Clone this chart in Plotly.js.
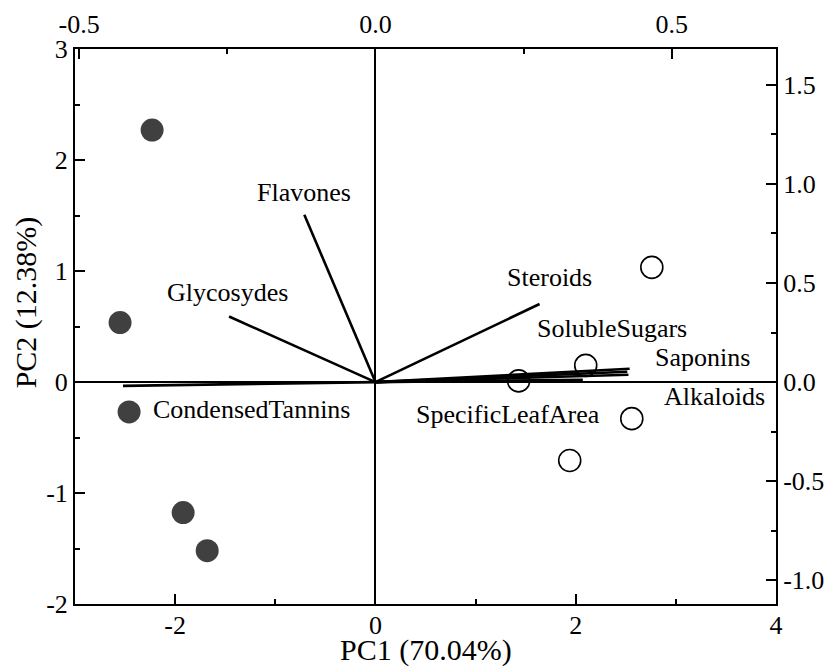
<!DOCTYPE html>
<html>
<head>
<meta charset="utf-8">
<script src="https://cdn.plot.ly/plotly-3.0.1.min.js"></script>
<style>
  html, body { margin: 0; padding: 0; background: #ffffff; }
  #chart { width: 827px; height: 669px; }
</style>
</head>
<body>
<div id="chart"></div>
<script>
// ---- Scores (PC1 / PC2, bottom & left axes) ----
const groupA_x = [-2.23, -2.55, -2.46, -1.92, -1.68];
const groupA_y = [2.27, 0.535, -0.27, -1.176, -1.52];
const groupB_x = [2.76, 2.10, 1.43, 2.56, 1.94];
const groupB_y = [1.033, 0.15, 0.01, -0.33, -0.707];

// ---- Loadings (top & right axes) ----
const varNames = ['Flavones', 'Glycosydes', 'CondensedTannins', 'Steroids',
                  'SolubleSugars', 'Saponins', 'Alkaloids', 'SpecificLeafArea'];
const loadX = [-0.120, -0.247, -0.426, 0.277, 0.425, 0.429, 0.427, 0.350];
const loadY = [0.845, 0.331, -0.019, 0.394, 0.052, 0.067, 0.037, 0.012];

// ---- Tick labels ----
const xTickVals = [-2, 0, 2, 4];
const xTickText = ['-2', '0', '2', '4'];
const yTickVals = [-2, -1, 0, 1, 2, 3];
const yTickText = ['-2', '-1', '0', '1', '2', '3'];
const x2TickVals = [-0.5, 0, 0.5];
const x2TickText = ['-0.5', '0.0', '0.5'];
const y2TickVals = [-1.0, -0.5, 0, 0.5, 1.0, 1.5];
const y2TickText = ['-1.0', '-0.5', '0.0', '0.5', '1.0', '1.5'];

// ---- Axis titles ----
const xTitle = 'PC1 (70.04%)';
const yTitle = 'PC2 (12.38%)';

// ---- Label placement (pixel offsets from vector tips; styling only) ----
const labelShiftX = [0, -2, 28, 10, -15, 73, 86, -75];
const labelShiftY = [22, 24, -24, 27, 43, 11, -22, -35];
const labelAnchor = ['center', 'center', 'left', 'center', 'center', 'center', 'center', 'center'];

const FONT = '"Liberation Serif", "Times New Roman", Times, serif';

// vectors as one line trace with gaps
const vx = [], vy = [];
for (let i = 0; i < varNames.length; i++) {
  vx.push(0, loadX[i], null);
  vy.push(0, loadY[i], null);
}

const traces = [
  {
    x: vx, y: vy, xaxis: 'x2', yaxis: 'y2', type: 'scatter', mode: 'lines',
    line: {color: '#000000', width: 2.6}, hoverinfo: 'skip', showlegend: false
  },
  {
    x: groupA_x, y: groupA_y, type: 'scatter', mode: 'markers',
    marker: {symbol: 'circle', size: 23, color: '#404040', line: {width: 0}},
    showlegend: false
  },
  {
    x: groupB_x, y: groupB_y, type: 'scatter', mode: 'markers',
    marker: {symbol: 'circle-open', size: 22, color: '#000000', line: {width: 1.6, color: '#000000'}},
    showlegend: false
  }
];

const annotations = varNames.map((name, i) => ({
  x: loadX[i], y: loadY[i], xref: 'x2', yref: 'y2',
  text: name, showarrow: false,
  xanchor: labelAnchor[i], yanchor: 'middle',
  xshift: labelShiftX[i], yshift: labelShiftY[i],
  font: {family: FONT, size: 26, color: '#000000'}
}));

annotations.push({
  x: 0.5, y: 0, xref: 'paper', yref: 'paper',
  text: xTitle, showarrow: false, xanchor: 'center', yanchor: 'bottom',
  yshift: -65,
  font: {family: FONT, size: 30, color: '#000000'}
});
annotations.push({
  x: -0.0703, y: 0.543, xref: 'paper', yref: 'paper',
  text: yTitle, showarrow: false, xanchor: 'center', yanchor: 'middle',
  textangle: -90,
  font: {family: FONT, size: 30, color: '#000000'}
});

const axisCommon = {
  showgrid: false, showline: true, linecolor: '#000000', linewidth: 2,
  ticks: 'inside', ticklen: 10, tickwidth: 2, tickcolor: '#000000',
  tickmode: 'array', tickfont: {family: FONT, size: 26, color: '#000000'},
  mirror: false
};

const layout = {
  width: 827, height: 669,
  margin: {l: 75, r: 51, t: 49, b: 65, pad: 0},
  paper_bgcolor: '#ffffff', plot_bgcolor: '#ffffff',
  font: {family: FONT, color: '#000000'},
  showlegend: false,
  xaxis: Object.assign({}, axisCommon, {
    range: [-3, 4], tickvals: xTickVals, ticktext: xTickText,
    zeroline: true, zerolinecolor: '#000000', zerolinewidth: 2,
    ticklabelstandoff: -3,
    minor: {tickmode: 'linear', tick0: 0, dtick: 1, ticks: 'inside', ticklen: 5, tickwidth: 2, tickcolor: '#000000'}
  }),
  yaxis: Object.assign({}, axisCommon, {
    range: [-2, 3], tickvals: yTickVals, ticktext: yTickText,
    zeroline: true, zerolinecolor: '#000000', zerolinewidth: 2,
    minor: {tickmode: 'linear', tick0: 0, dtick: 0.5, ticks: 'inside', ticklen: 5, tickwidth: 2, tickcolor: '#000000'}
  }),
  xaxis2: Object.assign({}, axisCommon, {
    overlaying: 'x', side: 'top', anchor: 'y',
    range: [-0.507, 0.676], tickvals: x2TickVals, ticktext: x2TickText,
    zeroline: false, ticklabelstandoff: 4,
    minor: {tickmode: 'linear', tick0: 0, dtick: 0.25, ticks: 'inside', ticklen: 5, tickwidth: 2, tickcolor: '#000000'}
  }),
  yaxis2: Object.assign({}, axisCommon, {
    overlaying: 'y', side: 'right', anchor: 'x',
    range: [-1.120, 1.681], tickvals: y2TickVals, ticktext: y2TickText,
    zeroline: false,
    minor: {tickmode: 'linear', tick0: 0, dtick: 0.25, ticks: 'inside', ticklen: 5, tickwidth: 2, tickcolor: '#000000'}
  }),
  annotations: annotations
};

Plotly.newPlot('chart', traces, layout, {displayModeBar: false, staticPlot: true});
</script>
</body>
</html>
